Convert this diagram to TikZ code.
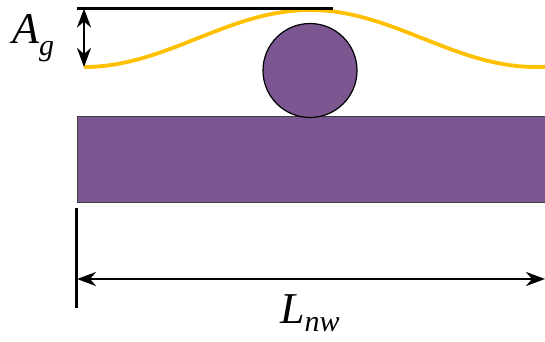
\documentclass[tikz,border=0pt]{standalone}
\usepackage{fontspec}
\setmainfont{Liberation Serif}
\usetikzlibrary{arrows.meta}
\definecolor{wire}{HTML}{7B5690}
\definecolor{gold}{HTML}{FFC000}
\tikzset{
  dimline/.style={line width=2.6pt, {Stealth[length=19pt,width=14pt,inset=6pt]}-{Stealth[length=19pt,width=14pt,inset=6pt]}},
  barline/.style={line width=3pt},
  lbl/.style={inner sep=0pt, anchor=base west},
}
\begin{document}
\begin{tikzpicture}[x=1pt,y=-1pt]
\useasboundingbox (0,0) rectangle (545,341);
\begin{scope}
\clip (0,0) rectangle (545,341);
% substrate
\node[draw=black!75, line width=1pt, fill=wire, minimum width=480pt, minimum height=86pt, anchor=north west, inner sep=0pt] (sub) at (77,116) {};
% wire
\node[draw=black, line width=1.2pt, fill=wire, circle, minimum size=94pt, inner sep=0pt] (wire) at (310,70.5) {};
% gold curve
\draw[gold, line width=3.8pt, domain=84:550, samples=120, smooth] plot (\x, {38.5-28.5*cos(((\x-310)/226)*180)});
\end{scope}
% top reference line
\coordinate (t1) at (77,8.5);
\coordinate (t2) at (333,8.5);
\draw[barline] (t1) -- (t2);
% amplitude arrow
\coordinate (a1) at (84,8.5);
\coordinate (a2) at (84,67);
\draw[dimline] (a1) -- (a2);
\node[lbl] (ag) at (12,43) {\fontsize{44}{44}\selectfont\itshape A\raisebox{-12pt}{\fontsize{30}{30}\selectfont g}};
% length bar
\coordinate (v1) at (76,208);
\coordinate (v2) at (76,308);
\draw[barline] (v1) -- (v2);
\coordinate (l1) at (77,279);
\coordinate (l2) at (545,279);
\draw[dimline] (l1) -- (l2);
\node[lbl] (lnw) at (280,323) {\fontsize{44}{44}\selectfont\itshape L\raisebox{-8pt}{\fontsize{30}{30}\selectfont nw}};
\end{tikzpicture}
\end{document}
